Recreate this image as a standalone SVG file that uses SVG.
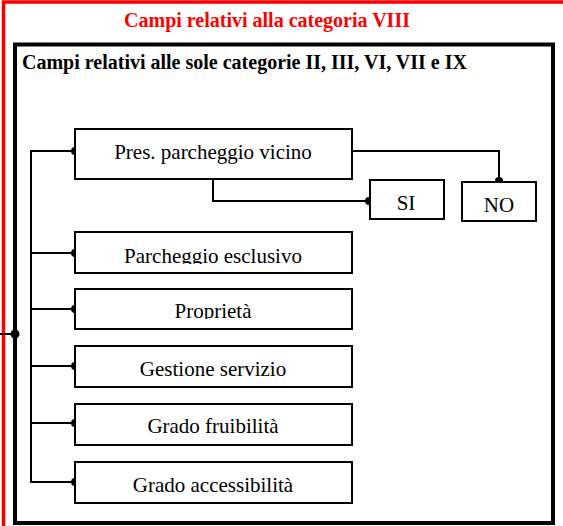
<svg xmlns="http://www.w3.org/2000/svg" width="563" height="526" viewBox="0 0 563 526">
<style>
.box{fill:#fff;stroke:#000;stroke-width:2}
.lbl{font-family:"Liberation Serif","Times New Roman",serif;font-size:21px;fill:#000;text-anchor:middle}
.conn{fill:none;stroke:#000;stroke-width:2}
.dot{fill:#000}
.title{font-family:"Liberation Serif","Times New Roman",serif;font-size:20px;font-weight:bold}
</style>
<defs>
<clipPath id="clipEsc"><rect x="74" y="232" width="278" height="32"/></clipPath>
<clipPath id="clipProp"><rect x="74" y="289" width="278" height="30"/></clipPath>
</defs>
<rect width="563" height="526" fill="#fff"/>
<g id="outer">
<rect x="3.5" y="2" width="600" height="600" fill="none" stroke="#ff0000" stroke-width="3.5"/>
<text class="title" x="267" y="27" fill="#ff0000" text-anchor="middle">Campi relativi alla categoria VIII</text>
</g>
<g id="inner">
<rect x="15" y="44.5" width="538" height="478.5" fill="none" stroke="#000" stroke-width="4"/>
<text class="title" x="22" y="69" fill="#000">Campi relativi alle sole categorie II, III, VI, VII e IX</text>
</g>
<g id="connectors">
<path class="conn" d="M0 334H15"/>
<circle class="dot" cx="15" cy="334" r="4.5"/>
<path class="conn" d="M75 151H31V482H75M31 253H75M31 309H75M31 366H75M31 423H75"/>
<path class="conn" d="M352 151H499V181"/>
<path class="conn" d="M213 179V201H369"/>
<circle class="dot" cx="75" cy="151" r="4"/>
<circle class="dot" cx="75" cy="253" r="4"/>
<circle class="dot" cx="75" cy="309" r="4"/>
<circle class="dot" cx="75" cy="366" r="4"/>
<circle class="dot" cx="75" cy="423" r="4"/>
<circle class="dot" cx="75" cy="482" r="4"/>
<circle class="dot" cx="369" cy="201" r="4"/>
<circle class="dot" cx="499" cy="181" r="4"/>
</g>
<g id="pres">
<rect class="box" x="75" y="129" width="277" height="50"/>
<text class="lbl" x="213" y="159">Pres. parcheggio vicino</text>
</g>
<g id="si">
<rect class="box" x="370" y="180" width="74" height="39"/>
<text class="lbl" x="406" y="210">SI</text>
</g>
<g id="no">
<rect class="box" x="462" y="182" width="74" height="39"/>
<text class="lbl" x="499" y="212">NO</text>
</g>
<g id="esclusivo">
<rect class="box" x="75" y="232" width="277" height="41"/>
<text class="lbl" x="213" y="263" clip-path="url(#clipEsc)">Parcheggio esclusivo</text>
</g>
<g id="proprieta">
<rect class="box" x="75" y="289" width="277" height="40"/>
<text class="lbl" x="213" y="318" clip-path="url(#clipProp)">Proprietà</text>
</g>
<g id="gestione">
<rect class="box" x="75" y="346" width="277" height="41"/>
<text class="lbl" x="213" y="376">Gestione servizio</text>
</g>
<g id="fruibilita">
<rect class="box" x="75" y="404" width="277" height="41"/>
<text class="lbl" x="213" y="433">Grado fruibilità</text>
</g>
<g id="accessibilita">
<rect class="box" x="75" y="462" width="277" height="41"/>
<text class="lbl" x="213" y="492">Grado accessibilità</text>
</g>
</svg>
